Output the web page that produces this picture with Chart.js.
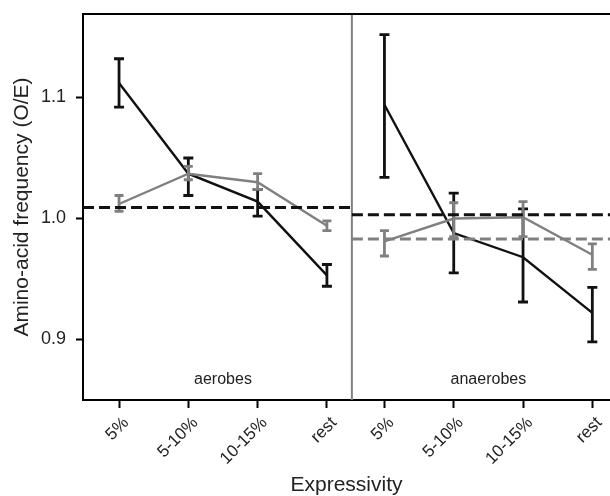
<!DOCTYPE html>
<html>
<head>
<meta charset="utf-8">
<script src="https://cdn.jsdelivr.net/npm/chart.js@4"></script>
<style>
  html, body { margin: 0; padding: 0; background: #fff; }
  #wrap { width: 610px; height: 496px; position: relative; }
</style>
</head>
<body>
<div id="wrap"><canvas id="c" width="610" height="496"></canvas></div>
<script>
// ---- data ----
const CATEGORIES = ['5%', '5-10%', '10-15%', 'rest'];
const PANELS = ['aerobes', 'anaerobes'];
const Y_TICKS = [0.9, 1.0, 1.1];

// black series
const BLACK_AEROBES      = [1.112, 1.037, 1.014, 0.953];
const BLACK_AEROBES_LO   = [1.092, 1.019, 1.002, 0.944];
const BLACK_AEROBES_HI   = [1.132, 1.050, 1.024, 0.962];
const BLACK_ANAEROBES    = [1.094, 0.988, 0.968, 0.922];
const BLACK_ANAEROBES_LO = [1.034, 0.955, 0.931, 0.898];
const BLACK_ANAEROBES_HI = [1.152, 1.021, 1.008, 0.943];

// grey series
const GREY_AEROBES       = [1.012, 1.037, 1.030, 0.994];
const GREY_AEROBES_LO    = [1.006, 1.032, 1.024, 0.990];
const GREY_AEROBES_HI    = [1.019, 1.043, 1.037, 0.998];
const GREY_ANAEROBES     = [0.981, 1.000, 1.001, 0.970];
const GREY_ANAEROBES_LO  = [0.969, 0.985, 0.985, 0.958];
const GREY_ANAEROBES_HI  = [0.990, 1.013, 1.014, 0.979];

// dashed reference levels per panel
const REF_BLACK = [1.009, 1.003];
const REF_GREY  = [null, 0.983];

// ---- layout of the faceted x axis (category index units) ----
const PANEL_OFFSET = [0, 3.83];
const X_MIN = -0.52, X_MAX = 7.085, DIVIDER = 3.36;
const PANEL_BOUNDS = [[X_MIN, DIVIDER], [DIVIDER, X_MAX]];

const BLACK = '#111111';
const GREY = '#808080';
const FONT = "'Liberation Sans', Arial, Helvetica, sans-serif";

function pts(vals, p) {
  return vals.map((v, i) => ({ x: PANEL_OFFSET[p] + i, y: v }));
}
function refPts(v, p) {
  return v == null ? [] : [{ x: PANEL_BOUNDS[p][0], y: v }, { x: PANEL_BOUNDS[p][1], y: v }];
}

const tickPositions = [];
const tickLabels = {};
PANEL_OFFSET.forEach(off => CATEGORIES.forEach((c, i) => {
  tickPositions.push(off + i);
  tickLabels[(off + i).toFixed(2)] = c;
}));

const datasets = [
  // reference dashed lines (on top)
  { data: refPts(REF_BLACK[0], 0), borderColor: BLACK, borderDash: [11, 5], borderWidth: 3 },
  { data: refPts(REF_BLACK[1], 1), borderColor: BLACK, borderDash: [11, 5], borderWidth: 3 },
  { data: refPts(REF_GREY[1], 1),  borderColor: GREY,  borderDash: [11, 5], borderWidth: 3 },
  // grey series
  { data: pts(GREY_AEROBES, 0), lo: GREY_AEROBES_LO, hi: GREY_AEROBES_HI, panel: 0, borderColor: GREY, borderWidth: 2.4, cap: 4.5 },
  { data: pts(GREY_ANAEROBES, 1), lo: GREY_ANAEROBES_LO, hi: GREY_ANAEROBES_HI, panel: 1, borderColor: GREY, borderWidth: 2.4, cap: 4.5 },
  // black series
  { data: pts(BLACK_AEROBES, 0), lo: BLACK_AEROBES_LO, hi: BLACK_AEROBES_HI, panel: 0, borderColor: BLACK, borderWidth: 2.4, cap: 5 },
  { data: pts(BLACK_ANAEROBES, 1), lo: BLACK_ANAEROBES_LO, hi: BLACK_ANAEROBES_HI, panel: 1, borderColor: BLACK, borderWidth: 2.4, cap: 5 },
].map(d => Object.assign({ pointRadius: 0, fill: false, tension: 0, borderCapStyle: 'butt' }, d));

const facetPlugin = {
  id: 'facet',
  beforeDatasetsDraw(chart) {
    const { ctx, chartArea: a, scales: { x, y } } = chart;
    ctx.save();
    // panel divider
    const dx = x.getPixelForValue(DIVIDER);
    ctx.strokeStyle = GREY; ctx.lineWidth = 2;
    ctx.beginPath(); ctx.moveTo(dx, a.top); ctx.lineTo(dx, a.bottom); ctx.stroke();
    // panel labels
    ctx.fillStyle = '#222'; ctx.font = '16px ' + FONT;
    ctx.textAlign = 'center'; ctx.textBaseline = 'middle';
    PANELS.forEach((p, k) => {
      ctx.fillText(p, x.getPixelForValue(PANEL_OFFSET[k] + (CATEGORIES.length - 1) / 2), y.getPixelForValue(0.8665));
    });
    ctx.restore();
  },
  afterDatasetDraw(chart, args) {
    const ds = chart.data.datasets[args.index];
    if (!ds.lo) return;
    const { ctx, scales: { x, y } } = chart;
    ctx.save();
    ctx.strokeStyle = ds.borderColor; ctx.lineWidth = 2.8; ctx.lineCap = 'butt';
    ds.data.forEach((pt, i) => {
      const px = x.getPixelForValue(pt.x);
      const yl = y.getPixelForValue(ds.lo[i]), yh = y.getPixelForValue(ds.hi[i]);
      ctx.beginPath();
      ctx.moveTo(px, yl); ctx.lineTo(px, yh);
      ctx.moveTo(px - ds.cap, yl); ctx.lineTo(px + ds.cap, yl);
      ctx.moveTo(px - ds.cap, yh); ctx.lineTo(px + ds.cap, yh);
      ctx.stroke();
    });
    ctx.restore();
  },
  afterDraw(chart) {
    const { ctx, chartArea: a } = chart;
    ctx.save();
    ctx.strokeStyle = '#000'; ctx.lineWidth = 2;
    ctx.beginPath(); ctx.moveTo(a.left - 1, a.top); ctx.lineTo(a.right, a.top); ctx.stroke();
    ctx.restore();
  }
};

new Chart(document.getElementById('c'), {
  type: 'line',
  data: { datasets },
  plugins: [facetPlugin],
  options: {
    responsive: false,
    animation: false,
    events: [],
    layout: { padding: { top: 14, right: 0, bottom: 0, left: 0 } },
    plugins: { legend: { display: false }, tooltip: { enabled: false } },
    scales: {
      x: {
        type: 'linear', min: X_MIN, max: X_MAX,
        afterBuildTicks: s => { s.ticks = tickPositions.map(v => ({ value: v })); },
        afterFit: s => { s.height = 96; s.paddingLeft = 0; s.paddingRight = 0; },
        grid: { drawOnChartArea: false, drawTicks: true, tickLength: 8, tickWidth: 2, tickColor: '#000' },
        border: { display: true, color: '#000', width: 2 },
        ticks: {
          autoSkip: false, minRotation: 45, maxRotation: 45, padding: 5, labelOffset: 7,
          color: '#222', font: { family: FONT, size: 17 },
          callback: v => tickLabels[Number(v).toFixed(2)] || ''
        },
        title: { display: true, text: 'Expressivity', color: '#222', font: { family: FONT, size: 21, lineHeight: 1.0 }, padding: 0 }
      },
      y: {
        type: 'linear', min: 0.85, max: 1.169,
        afterBuildTicks: s => { s.ticks = Y_TICKS.map(v => ({ value: v })); },
        afterFit: s => { s.width = 83; s.paddingTop = 0; s.paddingBottom = 0; },
        grid: { drawOnChartArea: false, drawTicks: true, tickLength: 7, tickWidth: 2, tickColor: '#000' },
        border: { display: true, color: '#000', width: 2 },
        ticks: { color: '#222', padding: 10, font: { family: FONT, size: 18 }, callback: v => Number(v).toFixed(1) },
        title: { display: true, text: 'Amino-acid frequency (O/E)', color: '#222', font: { family: FONT, size: 21, lineHeight: 1.0 }, padding: { top: 12, bottom: 0 } }
      }
    }
  }
});
</script>
</body>
</html>
